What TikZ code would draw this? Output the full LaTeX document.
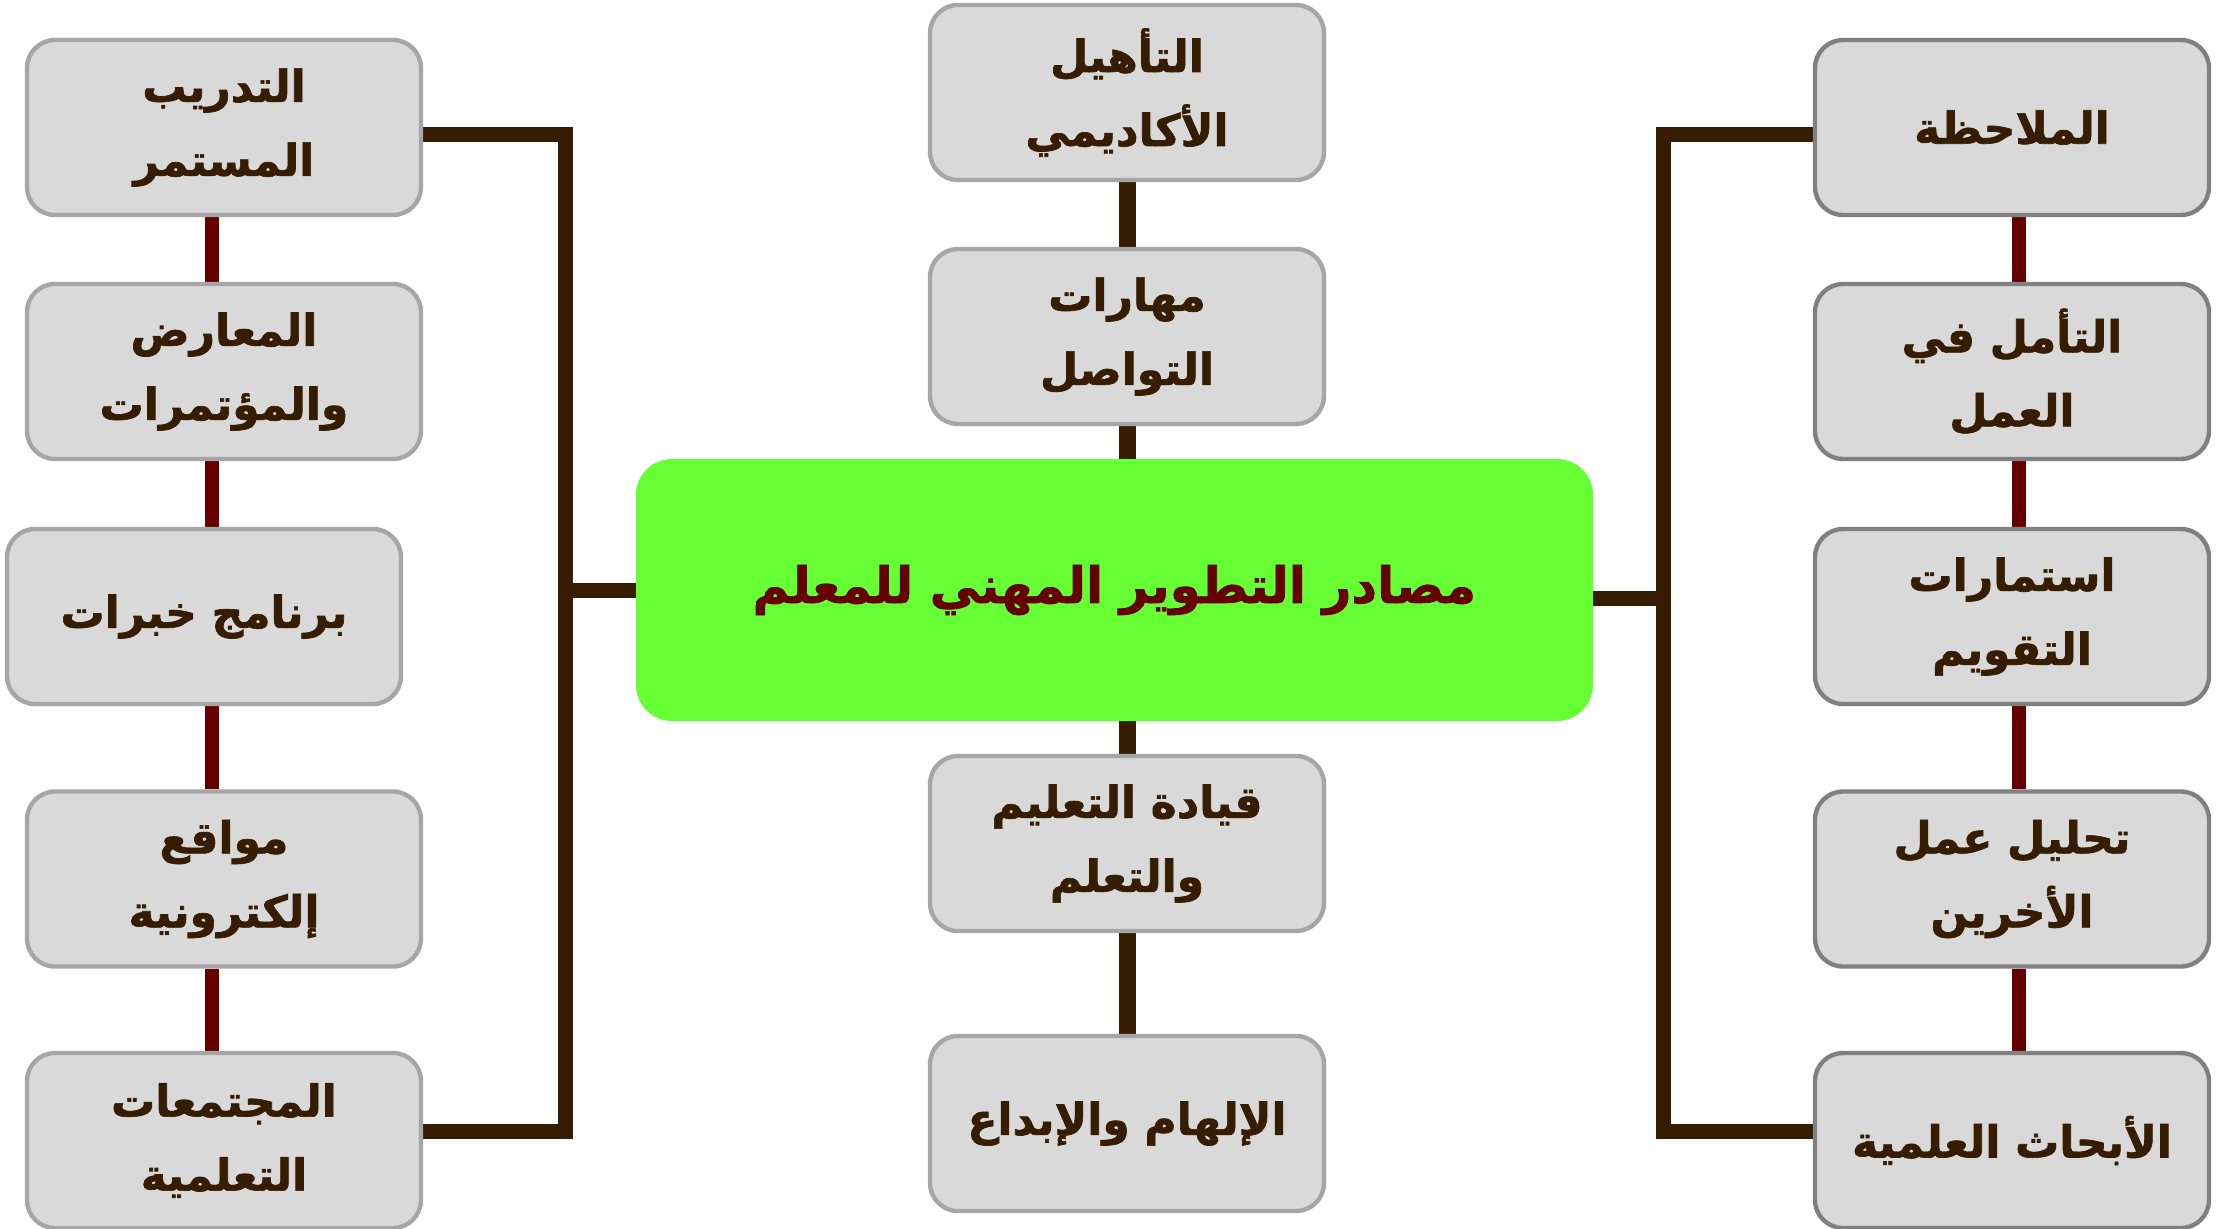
\documentclass[tikz,border=0pt]{standalone}
\usepackage{fontspec}
\TeXXeTstate=1
\newfontfamily\arabicfont[Script=Arabic,BoldFeatures={FakeBold=1.5}]{DejaVu Sans}
\usetikzlibrary{backgrounds}
\definecolor{boxfill}{HTML}{D9D9D9}
\definecolor{lborder}{HTML}{A6A6A6}
\definecolor{rborder}{HTML}{808080}
\definecolor{brownline}{HTML}{361C00}
\definecolor{maroon}{HTML}{660000}
\definecolor{greenbox}{HTML}{66FF33}
\newcommand{\ar}[1]{\beginR #1\endR}
\tikzset{
  sbox/.style={rectangle, rounded corners=14pt, fill=boxfill, line width=2.2pt,
    minimum width=197pt, minimum height=87.5pt, text width=190pt, align=center,
    inner sep=0pt, text=brownline,
    font=\arabicfont\bfseries\fontsize{22}{37}\selectfont},
  lbox/.style={sbox, draw=lborder},
  rbox/.style={sbox, draw=rborder},
  mainbox/.style={rectangle, rounded corners=18pt, fill=greenbox, draw=none,
    minimum width=478.5pt, minimum height=131pt, text width=470pt, align=center,
    inner sep=0pt, text=maroon,
    font=\arabicfont\bfseries\fontsize{25}{34}\selectfont},
  mline/.style={draw=maroon, line width=7pt},
  bline/.style={draw=brownline, line width=7.5pt},
  cline/.style={draw=brownline, line width=8.5pt},
}
\begin{document}
\begin{tikzpicture}[x=0.5pt, y=-0.5pt]
\useasboundingbox (0,0) rectangle (2216,1228);
% left column
\node[lbox] (L1) at (224,127.5) {\ar{التدريب}\\\ar{المستمر}};
\node[lbox] (L2) at (224,371.5) {\ar{المعارض}\\\ar{والمؤتمرات}};
\node[lbox] (L3) at (204,616.5) {\ar{برنامج خبرات}};
\node[lbox] (L4) at (224,879) {\ar{مواقع}\\\ar{إلكترونية}};
\node[lbox] (L5) at (224,1140.5) {\ar{المجتمعات}\\\ar{التعلمية}};
% centre column
\node[lbox] (C1) at (1127,92.5) {\ar{التأهيل}\\\ar{الأكاديمي}};
\node[lbox] (C2) at (1127,336.5) {\ar{مهارات}\\\ar{التواصل}};
\node[lbox] (C3) at (1127,843.5) {\ar{قيادة التعليم}\\\ar{والتعلم}};
\node[lbox] (C4) at (1127,1123.5) {\ar{الإلهام والإبداع}};
% main
\node[mainbox] (M) at (1114.5,590) {\ar{مصادر التطوير المهني للمعلم}};
% right column
\node[rbox] (R1) at (2012,127.5) {\ar{الملاحظة}};
\node[rbox] (R2) at (2012,371.5) {\ar{التأمل في}\\\ar{العمل}};
\node[rbox] (R3) at (2012,616.5) {\ar{استمارات}\\\ar{التقويم}};
\node[rbox] (R4) at (2012,879) {\ar{تحليل عمل}\\\ar{الأخرين}};
\node[rbox] (R5) at (2012,1140.5) {\ar{الأبحاث العلمية}};
% guide coordinates
\coordinate (lc) at (212,0);
\coordinate (rc) at (2019,0);
\coordinate (lx) at (565,0);
\coordinate (rx) at (1663,0);
\begin{scope}[on background layer]
  \draw[mline] (L1.south -| lc) -- (L2.north -| lc);
  \draw[mline] (L2.south -| lc) -- (L3.north -| lc);
  \draw[mline] (L3.south -| lc) -- (L4.north -| lc);
  \draw[mline] (L4.south -| lc) -- (L5.north -| lc);
  \draw[mline] (R1.south -| rc) -- (R2.north -| rc);
  \draw[mline] (R2.south -| rc) -- (R3.north -| rc);
  \draw[mline] (R3.south -| rc) -- (R4.north -| rc);
  \draw[mline] (R4.south -| rc) -- (R5.north -| rc);
  \draw[cline] (C1.south) -- (C2.north);
  \draw[cline] (C2.south) -- (C2.south |- M.north);
  \draw[cline] (C3.north |- M.south) -- (C3.north);
  \draw[cline] (C3.south) -- (C4.north);
  \draw[bline] ([yshift=-3.25pt]L1.east) -- ([yshift=-3.25pt]L1.east -| lx)
               -- ([yshift=4.5pt]L5.east -| lx) -- ([yshift=4.5pt]L5.east);
  \draw[bline] (M.west) -- (M.west -| lx);
  \draw[bline] ([yshift=-3.25pt]R1.west) -- ([yshift=-3.25pt]R1.west -| rx)
               -- ([yshift=4.5pt]R5.west -| rx) -- ([yshift=4.5pt]R5.west);
  \draw[bline] ([yshift=-4.25pt]M.east) -- ([yshift=-4.25pt]M.east -| rx);
\end{scope}
\end{tikzpicture}
\end{document}
